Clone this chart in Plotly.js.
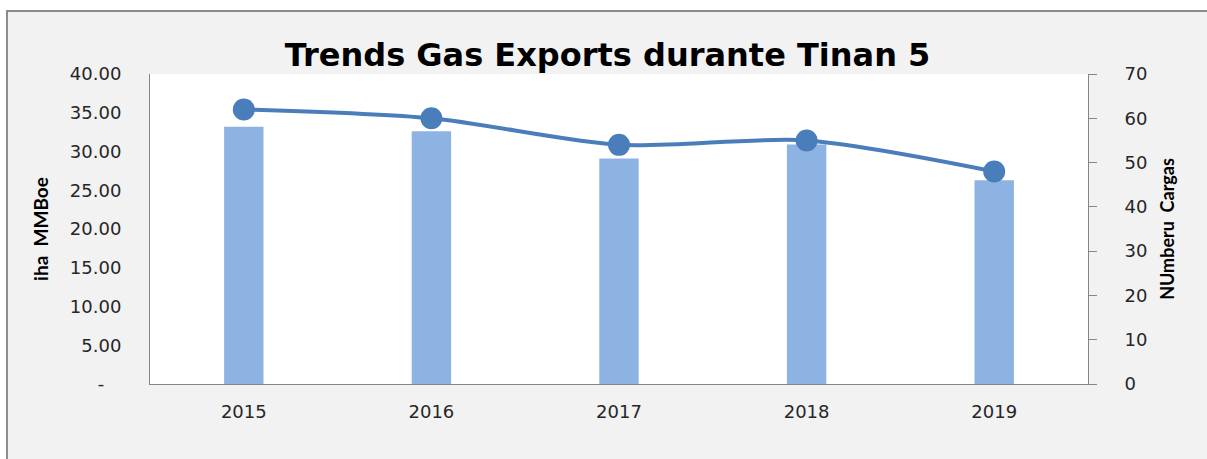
<!DOCTYPE html>
<html>
<head>
<meta charset="utf-8">
<script src="https://cdn.plot.ly/plotly-3.0.1.min.js"></script>
<style>
  html, body { margin: 0; padding: 0; background: #ffffff; }
  #chart {
    position: absolute; left: 6px; top: 10px;
    width: 1201px; height: 449px;
    border-top: 2px solid #8c8c8c; border-left: 2px solid #8c8c8c;
    box-sizing: border-box;
  }
</style>
</head>
<body>
<div id="chart"></div>
<script>
const years = ["2015", "2016", "2017", "2018", "2019"];
const volumeMMBoe = [33.2, 32.6, 29.1, 30.9, 26.3];
const cargoCount = [62, 60, 54, 55, 48];
const leftTickVals = [0, 5, 10, 15, 20, 25, 30, 35, 40];
const leftTickText = ["-\u00a0\u00a0\u00a0", "5.00", "10.00", "15.00", "20.00", "25.00", "30.00", "35.00", "40.00"];
const rightTickVals = [0, 10, 20, 30, 40, 50, 60, 70];

const bars = {
  type: "bar", x: years, y: volumeMMBoe, yaxis: "y",
  marker: { color: "#8db3e2" }, width: 0.21, name: "MMBoe",
  hoverinfo: "x+y"
};
const line = {
  type: "scatter", mode: "lines+markers", x: years, y: cargoCount, yaxis: "y2",
  line: { color: "#4a7ebb", width: 4, shape: "spline", smoothing: 0.8 },
  marker: { color: "#4a7ebb", size: 22 }, name: "Cargas",
  cliponaxis: false
};

const layout = {
  width: 1199, height: 447,
  margin: { l: 142, r: 119, t: 62, b: 75 },
  paper_bgcolor: "#f2f2f2", plot_bgcolor: "#ffffff",
  showlegend: false,
  title: {
    text: "Trends Gas Exports durante Tinan 5",
    font: { family: "DejaVu Sans", size: 32, color: "#000000", weight: "bold" },
    x: 0.5, xanchor: "center", y: 0.905, yanchor: "middle", yref: "container"
  },
  xaxis: {
    type: "category", showline: true, linecolor: "#868686", linewidth: 1,
    showgrid: false, zeroline: false, ticks: "",
    tickfont: { family: "DejaVu Sans", size: 18, color: "#262626" },
    ticklabelstandoff: 11, fixedrange: true
  },
  yaxis: {
    range: [0, 40], tickvals: leftTickVals, ticktext: leftTickText,
    showline: true, linecolor: "#868686", linewidth: 1,
    showgrid: false, zeroline: false, ticks: "",
    tickfont: { family: "DejaVu Sans", size: 18, color: "#262626" },
    ticklabelstandoff: 24,
    title: { text: "iha  MMBoe", font: { family: "Lato", size: 19, color: "#000000", weight: "bold" }, standoff: 16 },
    fixedrange: true
  },
  yaxis2: {
    overlaying: "y", side: "right", range: [0, 70], tickvals: rightTickVals,
    showline: true, linecolor: "#868686", linewidth: 1,
    showgrid: false, zeroline: false, ticks: "outside", ticklen: 8, tickcolor: "#868686",
    tickfont: { family: "DejaVu Sans", size: 18, color: "#262626" },
    ticklabelstandoff: 24,
    title: { text: "NUmberu  Cargas", font: { family: "Lato", size: 18, color: "#000000", weight: "bold" }, standoff: 14 },
    fixedrange: true
  }
};

Plotly.newPlot("chart", [bars, line], layout, { displayModeBar: false, staticPlot: true });
</script>
</body>
</html>
